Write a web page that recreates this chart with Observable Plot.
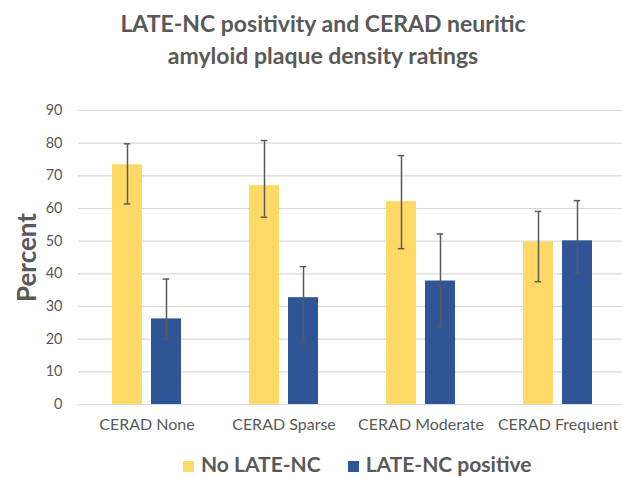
<!DOCTYPE html>
<html>
<head>
<meta charset="utf-8">
<script src="https://cdn.jsdelivr.net/npm/d3@7"></script>
<script src="https://cdn.jsdelivr.net/npm/@observablehq/plot@0.6"></script>
<style>
  html, body { margin: 0; padding: 0; background: #fff; overflow: hidden; width: 622px; height: 477px; }
  #wrap { position: relative; width: 622px; height: 477px; overflow: hidden; font-family: Lato, sans-serif; color: #595959; }
  #title { position: absolute; left: 0; top: 7px; width: 646px; text-align: center; font-weight: bold; font-size: 23px; line-height: 32px; }
  #chart { position: absolute; left: 0; top: 90px; }
  #legend { position: absolute; left: 183px; top: 454px; font-weight: bold; font-size: 21px; line-height: 20px; white-space: nowrap; }
  .item { display: inline-block; margin-right: 27px; }
  .sw { display: inline-block; width: 11px; height: 11px; margin-right: 7px; vertical-align: baseline; }
</style>
</head>
<body>
<div id="wrap">
  <div id="title">LATE-NC positivity and CERAD neuritic<br>amyloid plaque density ratings</div>
  <div id="chart"></div>
  <div id="legend"></div>
</div>
<script>
const categories = ["CERAD None", "CERAD Sparse", "CERAD Moderate", "CERAD Frequent"];
const series = ["No LATE-NC", "LATE-NC positive"];
const colors = ["#FFD966", "#2F5597"];

const noLate     = [73.4, 67.0, 62.1, 49.7];
const noLateLow  = [61.4, 57.3, 47.7, 37.6];
const noLateHigh = [79.8, 80.8, 76.2, 59.1];

const latePos     = [26.2, 32.7, 37.8, 50.1];
const latePosLow  = [20.0, 19.0, 23.8, 40.1];
const latePosHigh = [38.4, 42.2, 52.2, 62.4];

const yTicks = [0, 10, 20, 30, 40, 50, 60, 70, 80, 90];

const data = [];
categories.forEach((c, i) => {
  data.push({cat: c, series: series[0], value: noLate[i], lo: noLateLow[i], hi: noLateHigh[i]});
  data.push({cat: c, series: series[1], value: latePos[i], lo: latePosLow[i], hi: latePosHigh[i]});
});

const chart = Plot.plot({
  width: 627,
  height: 354,
  marginTop: 20,
  marginBottom: 40,
  marginLeft: 76,
  marginRight: 0,
  style: {fontFamily: "Lato, sans-serif", color: "#595959", background: "white", maxWidth: "none", overflow: "hidden"},
  fx: {domain: categories, padding: 0, label: null},
  x: {domain: series, paddingInner: 0.228, paddingOuter: 0.858, axis: null},
  y: {domain: [0, 90], label: null},
  color: {domain: series, range: colors},
  marks: [
    Plot.gridY(yTicks, {stroke: "#d9d9d9", strokeOpacity: 1, strokeWidth: 1.2}),
    Plot.axisY(yTicks, {tickSize: 0, tickPadding: 16, fontSize: 14.5, label: null}),
    Plot.axisY([], {label: "Percent", labelAnchor: "center", labelArrow: "none", labelOffset: 61, fontSize: 26, fontWeight: "bold"}),
    Plot.axisFx({anchor: "bottom", tickSize: 0, tickPadding: 14, fontSize: 16, label: null}),
    Plot.barY(data, {fx: "cat", x: "series", y: "value", fill: "series"}),
    Plot.ruleX(data, {fx: "cat", x: "series", y1: "lo", y2: "hi", stroke: "#595959", strokeWidth: 1.5}),
    Plot.tickY(data, {fx: "cat", x: "series", y: "hi", stroke: "#595959", strokeWidth: 1.5, insetLeft: 11.75, insetRight: 11.75}),
    Plot.tickY(data, {fx: "cat", x: "series", y: "lo", stroke: "#595959", strokeWidth: 1.5, insetLeft: 11.75, insetRight: 11.75})
  ]
});
document.getElementById("chart").appendChild(chart);

const legend = document.getElementById("legend");
series.forEach((s, i) => {
  const item = document.createElement("span");
  item.className = "item";
  const sw = document.createElement("span");
  sw.className = "sw";
  sw.style.background = colors[i];
  item.appendChild(sw);
  item.appendChild(document.createTextNode(s));
  legend.appendChild(item);
});
</script>
</body>
</html>
